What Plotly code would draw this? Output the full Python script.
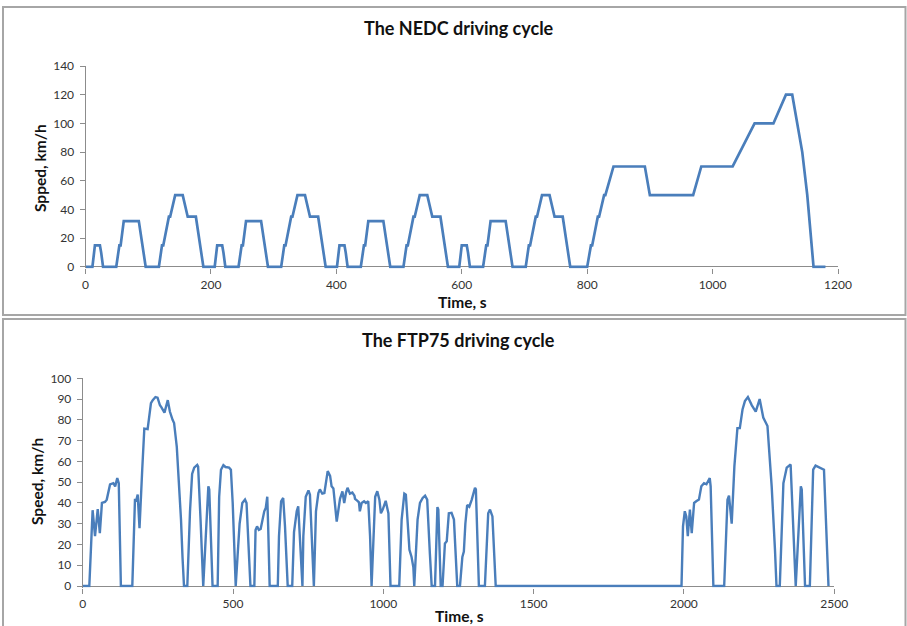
import plotly.graph_objects as go

# ---------------- NEDC (breakpoints of the speed profile) ----------------
nedc_time = [
    0, 11, 15, 23, 25, 28, 49, 54, 56, 61, 85, 93, 96, 117, 122, 124, 133, 135, 143, 155, 163, 176, 185, 188,
    195, 206, 210, 218, 220, 223, 244, 249, 251, 256, 280, 288, 291, 312, 317, 319, 328, 330, 338, 350, 358, 371, 380, 383,
    390, 401, 405, 413, 415, 418, 439, 444, 446, 451, 475, 483, 486, 507, 512, 514, 523, 525, 533, 545, 553, 566, 575, 578,
    585, 596, 600, 608, 610, 613, 634, 639, 641, 646, 670, 678, 681, 702, 707, 709, 718, 720, 728, 740, 748, 761, 770, 773,
    780, 800, 806, 808, 817, 819, 827, 829, 842, 892, 900, 969, 982, 1032, 1067, 1097, 1117, 1127, 1143, 1151, 1161, 1180,
]
nedc_speed = [
    0, 0, 15, 15, 10, 0, 0, 15, 15, 32, 32, 10, 0, 0, 15, 15, 35, 35, 50, 50, 35, 35, 10, 0,
    0, 0, 15, 15, 10, 0, 0, 15, 15, 32, 32, 10, 0, 0, 15, 15, 35, 35, 50, 50, 35, 35, 10, 0,
    0, 0, 15, 15, 10, 0, 0, 15, 15, 32, 32, 10, 0, 0, 15, 15, 35, 35, 50, 50, 35, 35, 10, 0,
    0, 0, 15, 15, 10, 0, 0, 15, 15, 32, 32, 10, 0, 0, 15, 15, 35, 35, 50, 50, 35, 35, 10, 0,
    0, 0, 15, 15, 35, 35, 50, 50, 70, 70, 50, 50, 70, 70, 100, 100, 120, 120, 80, 50, 0, 0,
]

# ---------------- FTP75 ----------------
ftp_time = [
    0, 22, 33, 41, 50, 57, 64, 74, 80, 91, 102, 108, 115, 120, 127, 165, 174, 177, 183, 189,
    198, 205, 216, 220, 227, 233, 242, 249, 257, 262, 272, 283, 290, 299, 304, 313, 321, 327, 332, 337,
    348, 357, 364, 371, 381, 384, 392, 401, 418, 421, 432, 449, 454, 460, 468, 475, 487, 493, 499, 504,
    509, 515, 522, 531, 540, 545, 553, 558, 571, 575, 580, 586, 592, 599, 604, 609, 614, 617, 622, 649,
    653, 660, 667, 673, 682, 697, 703, 712, 717, 731, 734, 742, 751, 756, 769, 776, 784, 789, 797, 804,
    812, 815, 823, 828, 834, 839, 845, 850, 856, 864, 870, 876, 881, 889, 897, 904, 906, 914, 919, 922,
    928, 936, 942, 950, 956, 961, 967, 973, 980, 987, 992, 998, 1008, 1017, 1024, 1053, 1061, 1070, 1075, 1087,
    1094, 1100, 1103, 1114, 1122, 1131, 1139, 1146, 1155, 1161, 1172, 1180, 1183, 1191, 1197, 1205, 1211, 1218, 1227, 1235,
    1246, 1255, 1263, 1268, 1273, 1279, 1286, 1294, 1305, 1308, 1318, 1338, 1349, 1355, 1363, 1368, 1374,
    1992, 1997, 2003, 2008, 2013, 2020, 2026, 2034, 2041, 2050, 2058, 2067, 2075, 2086, 2089, 2098, 2134, 2145, 2150, 2159,
    2168, 2178, 2186, 2195, 2203, 2213, 2226, 2239, 2252, 2264, 2278, 2292, 2303, 2308, 2319, 2331, 2342, 2355, 2372, 2389,
    2392, 2403, 2419, 2430, 2438, 2458, 2466, 2481,
]
ftp_speed = [
    0, 0, 36.5, 24, 37, 25.5, 40, 40.5, 41.6, 48.9, 49.5, 48, 52, 49.5, 0, 0, 42, 40.6, 44, 27.8,
    56, 75.8, 75.5, 80, 88, 89.5, 91, 90.7, 87, 86, 83.5, 89.5, 84, 80, 78.5, 67, 49.5, 32, 14, 0,
    0, 36, 54, 57, 58.3, 57.5, 32, 0, 48, 46.5, 0, 0, 43, 56, 58.2, 57.3, 57, 56, 40, 14,
    0, 14, 30, 40, 41.6, 40, 15.5, 0, 0, 27, 28.7, 27, 27.5, 33.5, 36, 37.6, 43, 28.7, 0, 0,
    24, 40.8, 42.4, 28.7, 0, 0, 26, 36, 38.4, 0, 24, 43, 46, 44, 0, 36, 44.8, 46.5, 44.5, 44.8,
    53, 55.3, 53, 48, 47, 40, 31, 36, 42, 45.6, 40, 45, 47.3, 44.5, 45, 43.5, 42, 41, 40.3, 36,
    40, 40.8, 40, 40.8, 24, 0, 24, 43, 45.6, 41.6, 35, 36.8, 41, 35, 0, 0, 32, 44.5, 44, 17.4,
    14, 9, 0, 32, 40, 42.4, 43.5, 41.6, 15.5, 0, 0, 38, 36.8, 0, 0, 20.5, 21.5, 35, 35.2, 32,
    0, 0, 14, 16.6, 30, 39, 38.2, 41.5, 47.3, 46.5, 0, 0, 35, 36.8, 33.5, 15.5, 0,
    0, 28.7, 36, 33.5, 24, 36.8, 25.5, 40, 40.8, 41.6, 48, 49.5, 49, 52, 48, 0, 0, 41.6, 43.5, 30,
    57.7, 76, 76, 85, 89, 91, 87, 84, 90, 81.1, 77, 48, 17.4, 0, 0, 49.5, 57, 58.5, 0, 48,
    46.5, 0, 0, 56, 58, 56.8, 56, 0,
]

nedc_xticks = [0, 200, 400, 600, 800, 1000, 1200]
nedc_yticks = [0, 20, 40, 60, 80, 100, 120, 140]
ftp_xticks = [0, 500, 1000, 1500, 2000, 2500]
ftp_yticks = [0, 10, 20, 30, 40, 50, 60, 70, 80, 90, 100]

W, H = 907, 626
LINE = "#4A7EBB"
AXIS = "#8C8C8C"
FONT = "Lato"


def fx(p):
    return p / W


def fy(p):
    return 1 - p / H


fig = go.Figure()
fig.add_trace(go.Scatter(x=nedc_time, y=nedc_speed, mode="lines",
                         line=dict(color=LINE, width=2.7), xaxis="x", yaxis="y",
                         showlegend=False, hoverinfo="skip"))
fig.add_trace(go.Scatter(x=ftp_time, y=ftp_speed, mode="lines",
                         line=dict(color=LINE, width=2.4), xaxis="x2", yaxis="y2",
                         showlegend=False, hoverinfo="skip"))

tickfont = dict(family=FONT, size=12, color="#333333")
common_x = dict(showgrid=False, showline=False, zeroline=False, ticks="outside",
                ticklen=5, tickcolor=AXIS, tickwidth=1, tickfont=tickfont,
                fixedrange=True, automargin=False)
common_y = dict(showgrid=False, showline=True, linecolor=AXIS, linewidth=1,
                zeroline=True, zerolinecolor=AXIS, zerolinewidth=1,
                ticks="outside", ticklen=5, tickcolor=AXIS, tickwidth=1,
                tickfont=tickfont, fixedrange=True, automargin=False,
                ticklabelstandoff=3)

fig.update_layout(
    width=W, height=H,
    margin=dict(l=0, r=0, t=0, b=0, pad=0, autoexpand=False),
    paper_bgcolor="white", plot_bgcolor="white",
    xaxis=dict(domain=[fx(85.5), fx(838)], range=[0, 1200], tickvals=nedc_xticks,
               anchor="y", **common_x),
    yaxis=dict(domain=[fy(268.4), fy(66)], range=[-1, 140], tickvals=nedc_yticks,
               anchor="x", **common_y),
    xaxis2=dict(domain=[fx(82.7), fx(834.2)], range=[0, 2500], tickvals=ftp_xticks,
                anchor="y2", **common_x),
    yaxis2=dict(domain=[fy(587.5), fy(378.3)], range=[-0.7, 100], tickvals=ftp_yticks,
                anchor="x2", **common_y),
)

# panel frames
for y0, y1 in [(7, 315), (319, 640)]:
    fig.add_shape(type="rect", xref="paper", yref="paper",
                  x0=fx(3), x1=fx(905.5), y0=fy(y1), y1=fy(y0),
                  line=dict(color="#A6A6A6", width=2), fillcolor="rgba(0,0,0,0)", layer="below")

title_font = dict(family=FONT, size=18, color="#111111")
label_font = dict(family=FONT, size=15.5, color="#111111")
annos = [
    dict(text="<b>The NEDC driving cycle</b>", x=fx(459), y=fy(28), font=title_font),
    dict(text="<b>The FTP75 driving cycle</b>", x=fx(458), y=fy(340), font=title_font),
    dict(text="<b>Time, s</b>", x=fx(462), y=fy(302), font=label_font),
    dict(text="<b>Time, s</b>", x=fx(460), y=fy(616), font=label_font),
    dict(text="<b>Spped, km/h</b>", x=fx(40), y=fy(168), font=label_font, textangle=-90),
    dict(text="<b>Speed, km/h</b>", x=fx(37), y=fy(482), font=label_font, textangle=-90),
]
for a in annos:
    fig.add_annotation(xref="paper", yref="paper", showarrow=False,
                       xanchor="center", yanchor="middle", **a)

fig.write_html("out.html")
